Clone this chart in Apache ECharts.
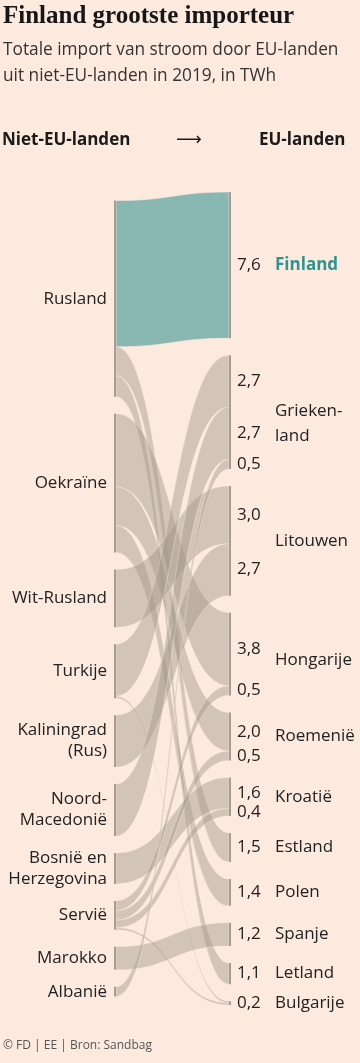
<!DOCTYPE html>
<html>
<head>
<meta charset="utf-8">
<script src="https://cdn.jsdelivr.net/npm/echarts@6/dist/echarts.min.js"></script>
<style>
html,body{margin:0;padding:0;background:#fdeadf;}
#c{width:360px;height:1063px;}
</style>
</head>
<body>
<div id="c"></div>
<script>
// ---- data ----
const sourceNames = ['Rusland', 'Oekraïne', 'Wit-Rusland', 'Turkije', 'Kaliningrad (Rus)', 'Noord-Macedonië', 'Bosnië en Herzegovina', 'Servië', 'Marokko', 'Albanië'];
const sourceLabels = ['Rusland', 'Oekraïne', 'Wit-Rusland', 'Turkije', 'Kaliningrad\n(Rus)', 'Noord-\nMacedonië', 'Bosnië en\nHerzegovina', 'Servië', 'Marokko', 'Albanië'];
const targetNames = ['Finland', 'Griekenland', 'Litouwen', 'Hongarije', 'Roemenië', 'Kroatië', 'Estland', 'Polen', 'Spanje', 'Letland', 'Bulgarije'];
const targetLabels = ['Finland', 'Grieken-\nland', 'Litouwen', 'Hongarije', 'Roemenië', 'Kroatië', 'Estland', 'Polen', 'Spanje', 'Letland', 'Bulgarije'];
const flowSource = ['Rusland', 'Rusland', 'Rusland', 'Oekraïne', 'Oekraïne', 'Oekraïne', 'Wit-Rusland', 'Turkije', 'Turkije', 'Kaliningrad (Rus)', 'Noord-Macedonië', 'Bosnië en Herzegovina', 'Servië', 'Servië', 'Servië', 'Servië', 'Marokko', 'Albanië'];
const flowTarget = ['Finland', 'Estland', 'Letland', 'Hongarije', 'Roemenië', 'Polen', 'Litouwen', 'Griekenland', 'Bulgarije', 'Litouwen', 'Griekenland', 'Kroatië', 'Hongarije', 'Roemenië', 'Kroatië', 'Bulgarije', 'Spanje', 'Griekenland'];
const flowValue = [7.6, 1.5, 1.1, 3.8, 2.0, 1.4, 3.0, 2.7, 0.1, 2.7, 2.7, 1.6, 0.5, 0.5, 0.4, 0.1, 1.2, 0.5];
const highlightTarget = 'Finland';

// ---- styles ----
const BG = '#fdeadf';
const FONT = 'Open Sans';
const TEAL = '#2f9391';
const LABEL_SIZE = 17;
const fmt = v => (Math.round(v * 10) / 10).toFixed(1).replace('.', ',');
const labelTweaks = { 'Griekenland': { lineHeight: 25, offset: [0, 12] }, 'Hongarije': { offset: [0, 6] } };

const nodes = [];
sourceNames.forEach((n, i) => nodes.push({
  name: n,
  label: { position: 'left', distance: 7, align: 'right', formatter: sourceLabels[i] }
}));
targetNames.forEach((n, i) => {
  const lab = { position: 'right', distance: 44, formatter: targetLabels[i] };
  if (n === highlightTarget) { lab.color = TEAL; lab.fontWeight = 'bold'; }
  if (labelTweaks[n]) Object.assign(lab, labelTweaks[n]);
  nodes.push({ name: n, label: lab });
});

const links = flowValue.map((v, i) => ({
  source: flowSource[i],
  target: flowTarget[i],
  value: v,
  lineStyle: flowTarget[i] === highlightTarget
    ? { color: '#89b8b3', opacity: 1, borderColor: BG, borderWidth: 0.6 }
    : { color: '#a0968a', opacity: 0.45, borderColor: BG, borderWidth: 0.8 }
}));

const chart = echarts.init(document.getElementById('c'), null, { renderer: 'canvas' });

const option = {
  backgroundColor: BG,
  animation: false,
  title: [
    { text: 'Finland grootste importeur', left: 3, top: 4, padding: 0,
      textStyle: { fontFamily: 'Liberation Serif', fontWeight: 'bold', fontSize: 25, color: '#161616' } },
    { text: 'Totale import van stroom door EU-landen\nuit niet-EU-landen in 2019, in TWh', left: 3, top: 37, padding: 0,
      textStyle: { fontFamily: FONT, fontWeight: 'normal', fontSize: 17.3, lineHeight: 26, color: '#333' } },
    { text: 'Niet-EU-landen', left: 2, top: 132, padding: 0,
      textStyle: { fontFamily: FONT, fontWeight: 'bold', fontSize: 17, color: '#1a1a1a' } },
    { text: '⟶', left: 176, top: 131, padding: 0,
      textStyle: { fontFamily: 'DejaVu Sans', fontWeight: 'normal', fontSize: 18, color: '#1a1a1a' } },
    { text: 'EU-landen', left: 259, top: 132, padding: 0,
      textStyle: { fontFamily: FONT, fontWeight: 'bold', fontSize: 17, color: '#1a1a1a' } },
    { text: '© FD | EE | Bron: Sandbag', left: 3, top: 1040, padding: 0,
      textStyle: { fontFamily: FONT, fontWeight: 'normal', fontSize: 12, color: '#555' } }
  ],
  series: [{
    type: 'sankey',
    left: 114,
    right: 129,
    top: 192,
    bottom: 58,
    nodeWidth: 2,
    nodeGap: 17,
    layoutIterations: 0,
    draggable: false,
    emphasis: { disabled: true },
    itemStyle: { color: '#a89d94', borderWidth: 0 },
    label: { fontFamily: FONT, fontSize: LABEL_SIZE, color: '#222', lineHeight: 21 },
    lineStyle: { curveness: 0.5 },
    data: nodes,
    links: links
  }]
};
chart.setOption(option);

// Post-layout: centre the source column and add per-link value labels at the target end
(function () {
  const series = chart.getModel().getSeriesByIndex(0);
  const graph = series.getGraph();
  const data = series.getData();
  const rect = series.layoutInfo;
  const nameOf = n => data.getName(n.dataIndex);
  let lMin = Infinity, lMax = -Infinity, rMin = Infinity, rMax = -Infinity;
  const layoutByName = {};
  graph.nodes.forEach(n => {
    const l = n.getLayout();
    const nm = nameOf(n);
    layoutByName[nm] = l;
    if (sourceNames.indexOf(nm) >= 0) {
      lMin = Math.min(lMin, l.y); lMax = Math.max(lMax, l.y + l.dy);
    } else {
      rMin = Math.min(rMin, l.y); rMax = Math.max(rMax, l.y + l.dy);
    }
  });
  const shift = ((rMax - rMin) - (lMax - lMin)) / 2 + (rMin - lMin);
  const newNodes = nodes.map(nd => {
    if (sourceNames.indexOf(nd.name) >= 0 && layoutByName[nd.name]) {
      return Object.assign({}, nd, { localY: (layoutByName[nd.name].y + shift) / rect.height });
    }
    return nd;
  });

  const texts = [];
  const byTarget = {};
  graph.edges.forEach(e => {
    const tName = nameOf(e.node2);
    (byTarget[tName] = byTarget[tName] || []).push(e);
  });
  const mk = (x, y, v) => ({ type: 'text', x: x, y: y, silent: true,
    style: { text: fmt(v), fontFamily: FONT, fontSize: LABEL_SIZE, fill: '#222', verticalAlign: 'middle', align: 'left' } });
  Object.keys(byTarget).forEach(t => {
    const edges = byTarget[t];
    const n2 = layoutByName[t];
    const x = rect.x + n2.x + n2.dx + 6;
    const total = edges.reduce((s, e) => s + e.getValue(), 0);
    if (total < 0.3) {
      texts.push(mk(x, rect.y + n2.y + n2.dy / 2, total));
    } else {
      edges.forEach(e => {
        const el = e.getLayout();
        texts.push(mk(x, rect.y + n2.y + el.ty + el.dy / 2, e.getValue()));
      });
    }
  });
  chart.setOption({ series: [{ data: newNodes }], graphic: { elements: texts } });
})();
</script>
</body>
</html>
